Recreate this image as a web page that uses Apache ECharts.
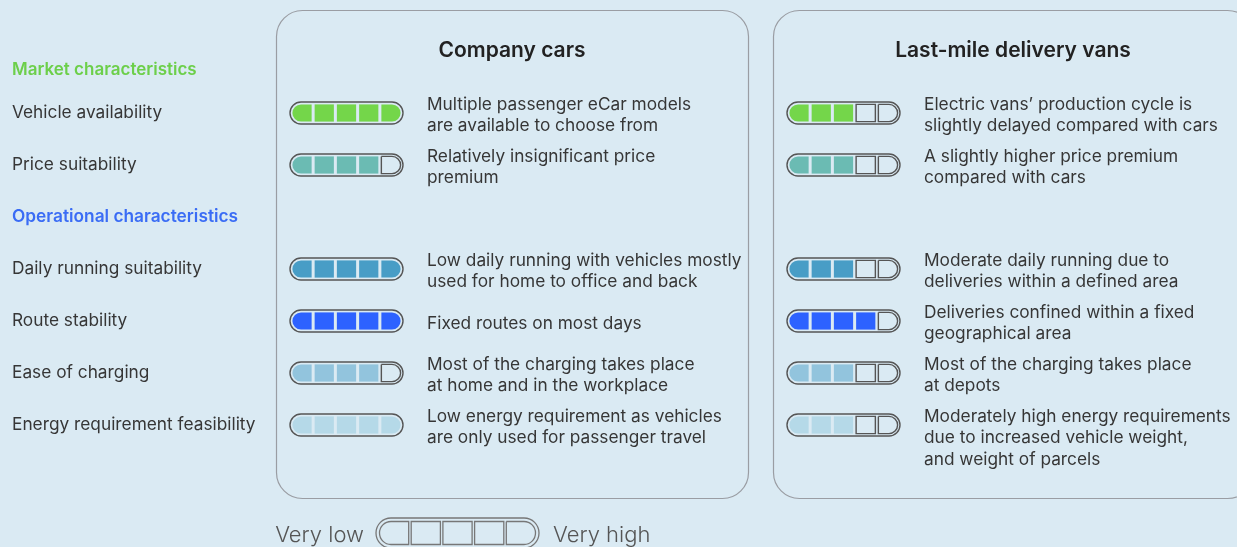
<!DOCTYPE html>
<html><head><meta charset="utf-8">
<script src="https://cdn.jsdelivr.net/npm/echarts@6/dist/echarts.min.js"></script>
<style>html,body{margin:0;padding:0;background:#daeaf3}#c{width:1237px;height:547px}</style>
</head><body><div id="c"></div>
<script>
const rows = ['Vehicle availability','Price suitability','Operational characteristics','Daily running suitability','Route stability','Ease of charging','Energy requirement feasibility'];
const headingRows = ['Operational characteristics'];
const topHeading = 'Market characteristics';
const panelTitles = ['Company cars','Last-mile delivery vans'];
const carLevels = [5,4,null,5,5,4,5];
const vanLevels = [3,3,null,3,4,3,3];
const rowColors = ['#74d64a','#6bbbb3',null,'#489dc6','#2d62ff','#92c4dd','#b5d9e8'];
const carNotes = [
  'Multiple passenger eCar models\nare available to choose from',
  'Relatively insignificant price\npremium',
  null,
  'Low daily running with vehicles mostly\nused for home to office and back',
  'Fixed routes on most days',
  'Most of the charging takes place\nat home and in the workplace',
  'Low energy requirement as vehicles\nare only used for passenger travel'
];
const vanNotes = [
  'Electric vans\u2019 production cycle is\nslightly delayed compared with cars',
  'A slightly higher price premium\ncompared with cars',
  null,
  'Moderate daily running due to\ndeliveries within a defined area',
  'Deliveries confined within a fixed\ngeographical area',
  'Most of the charging takes place\nat depots',
  'Moderately high energy requirements\ndue to increased vehicle weight,\nand weight of parcels'
];
const legendLabels = ['Very low','Very high'];
const CELLS = 5;
const FONT = 'Inter, "Noto Sans", sans-serif';
const TXT = '#363636';
const FS = 17.3;

function batteryShapes(x0, x1, yc, h, level, color, o) {
  const ch = [];
  const pad = o.pad, gap = o.gap;
  const ix0 = x0 + pad, ix1 = x1 - pad, iy0 = yc - h / 2 + pad, ih = h - 2 * pad;
  const cw = (ix1 - ix0 - gap * (CELLS - 1)) / CELLS;
  for (let k = 0; k < CELLS; k++) {
    const cx = ix0 + k * (cw + gap);
    const rr = ih / 2;
    const r = k === 0 ? [rr, 0, 0, rr] : (k === CELLS - 1 ? [0, rr, rr, 0] : 0);
    const filled = k < level;
    ch.push({
      type: 'rect',
      shape: { x: cx, y: iy0, width: cw, height: ih, r: r },
      style: filled ? { fill: color } : { fill: 'none', stroke: o.cellStroke, lineWidth: o.lw }
    });
  }
  ch.push({
    type: 'rect',
    shape: { x: x0, y: yc - h / 2, width: x1 - x0, height: h, r: h / 2 },
    style: { fill: 'none', stroke: o.stroke, lineWidth: o.lw }
  });
  return ch;
}

function makePanelSeries(gridIndex, levels, notes) {
  const data = [];
  levels.forEach((lv, i) => { if (lv !== null) data.push([0, i, lv, CELLS]); });
  return {
    type: 'custom',
    xAxisIndex: gridIndex, yAxisIndex: gridIndex,
    encode: { x: [0, 3], y: 1 },
    data: data,
    renderItem: function (params, api) {
      const row = api.value(1);
      const lv = api.value(2);
      const p0 = api.coord([0, row]);
      const p1 = api.coord([CELLS, row]);
      const h = 22;
      const children = batteryShapes(p0[0], p1[0], p0[1], h, lv, rowColors[row],
        { pad: 2.4, gap: 3, stroke: '#555', cellStroke: '#555', lw: 1.4 });
      const note = notes[row];
      const n = note.split('\n').length;
      const lh = 21.5;
      const top = p0[1] - lh * Math.min(n, 2) / 2 + 2.5;
      children.push({
        type: 'text',
        x: p1[0] + 24, y: top,
        style: { text: note, fill: TXT, fontSize: FS, fontFamily: FONT, lineHeight: lh, verticalAlign: 'top', align: 'left' }
      });
      return { type: 'group', children: children };
    }
  };
}

const legendSeries = {
  type: 'custom',
  xAxisIndex: 2, yAxisIndex: 2,
  encode: { x: [0, 3], y: 1 },
  data: [[0, 0, 0, CELLS]],
  renderItem: function (params, api) {
    const p0 = api.coord([0, 0]);
    const p1 = api.coord([CELLS, 0]);
    const h = 30;
    const children = batteryShapes(p0[0], p1[0], p0[1], h, 0, '#fff',
      { pad: 3.5, gap: 2.5, stroke: '#777', cellStroke: '#777', lw: 1.3 });
    children.push({ type: 'text', x: p0[0] - 12, y: p0[1] + 2,
      style: { text: legendLabels[0], fill: '#555', fontSize: 22, fontWeight: 300, fontFamily: FONT, align: 'right', verticalAlign: 'middle' } });
    children.push({ type: 'text', x: p1[0] + 14, y: p0[1] + 2,
      style: { text: legendLabels[1], fill: '#555', fontSize: 22, fontWeight: 300, fontFamily: FONT, align: 'left', verticalAlign: 'middle' } });
    return { type: 'group', children: children };
  }
};

const gridTop = 87, gridH = 364;
function yAx(gi, show) {
  return {
    type: 'category', gridIndex: gi, data: rows, inverse: true,
    axisLine: { show: false }, axisTick: { show: false }, splitLine: { show: false },
    axisLabel: show ? {
      show: true, margin: 278, align: 'left',
      color: TXT, fontSize: FS, fontFamily: FONT,
      formatter: function (v) { return headingRows.indexOf(v) >= 0 ? '{h|' + v + '}' : v; },
      rich: { h: { color: '#3a6cf5', fontSize: FS, fontWeight: 600, fontFamily: FONT } }
    } : { show: false }
  };
}
function xAx(gi) {
  return { type: 'value', gridIndex: gi, min: 0, max: CELLS, show: false };
}

const chart = echarts.init(document.getElementById('c'), null, { renderer: 'canvas' });
chart.setOption({
  backgroundColor: '#daeaf3',
  animation: false,
  grid: [
    { left: 290, width: 113, top: gridTop, height: gridH },
    { left: 787, width: 113, top: gridTop, height: gridH },
    { left: 376, width: 163, top: 519, height: 30 }
  ],
  xAxis: [xAx(0), xAx(1), xAx(2)],
  yAxis: [yAx(0, true), yAx(1, false), { type: 'category', gridIndex: 2, data: ['legend'], show: false }],
  graphic: [
    { type: 'rect', z: -1, shape: { x: 276.5, y: 10.5, width: 472, height: 488, r: 26 }, style: { fill: 'none', stroke: '#9a9da3', lineWidth: 1.2 } },
    { type: 'rect', z: -1, shape: { x: 773.5, y: 10.5, width: 480, height: 488, r: 26 }, style: { fill: 'none', stroke: '#9a9da3', lineWidth: 1.2 } },
    { type: 'text', x: 512, y: 51, style: { text: panelTitles[0], fill: '#222', fontSize: 21, fontWeight: 600, fontFamily: FONT, align: 'center', verticalAlign: 'middle' } },
    { type: 'text', x: 1013, y: 51, style: { text: panelTitles[1], fill: '#222', fontSize: 21, fontWeight: 600, fontFamily: FONT, align: 'center', verticalAlign: 'middle' } },
    { type: 'text', x: 12, y: 70, style: { text: topHeading, fill: '#6ccf4a', fontSize: 17, fontWeight: 600, fontFamily: FONT, align: 'left', verticalAlign: 'middle' } }
  ],
  series: [makePanelSeries(0, carLevels, carNotes), makePanelSeries(1, vanLevels, vanNotes), legendSeries]
});
</script></body></html>
